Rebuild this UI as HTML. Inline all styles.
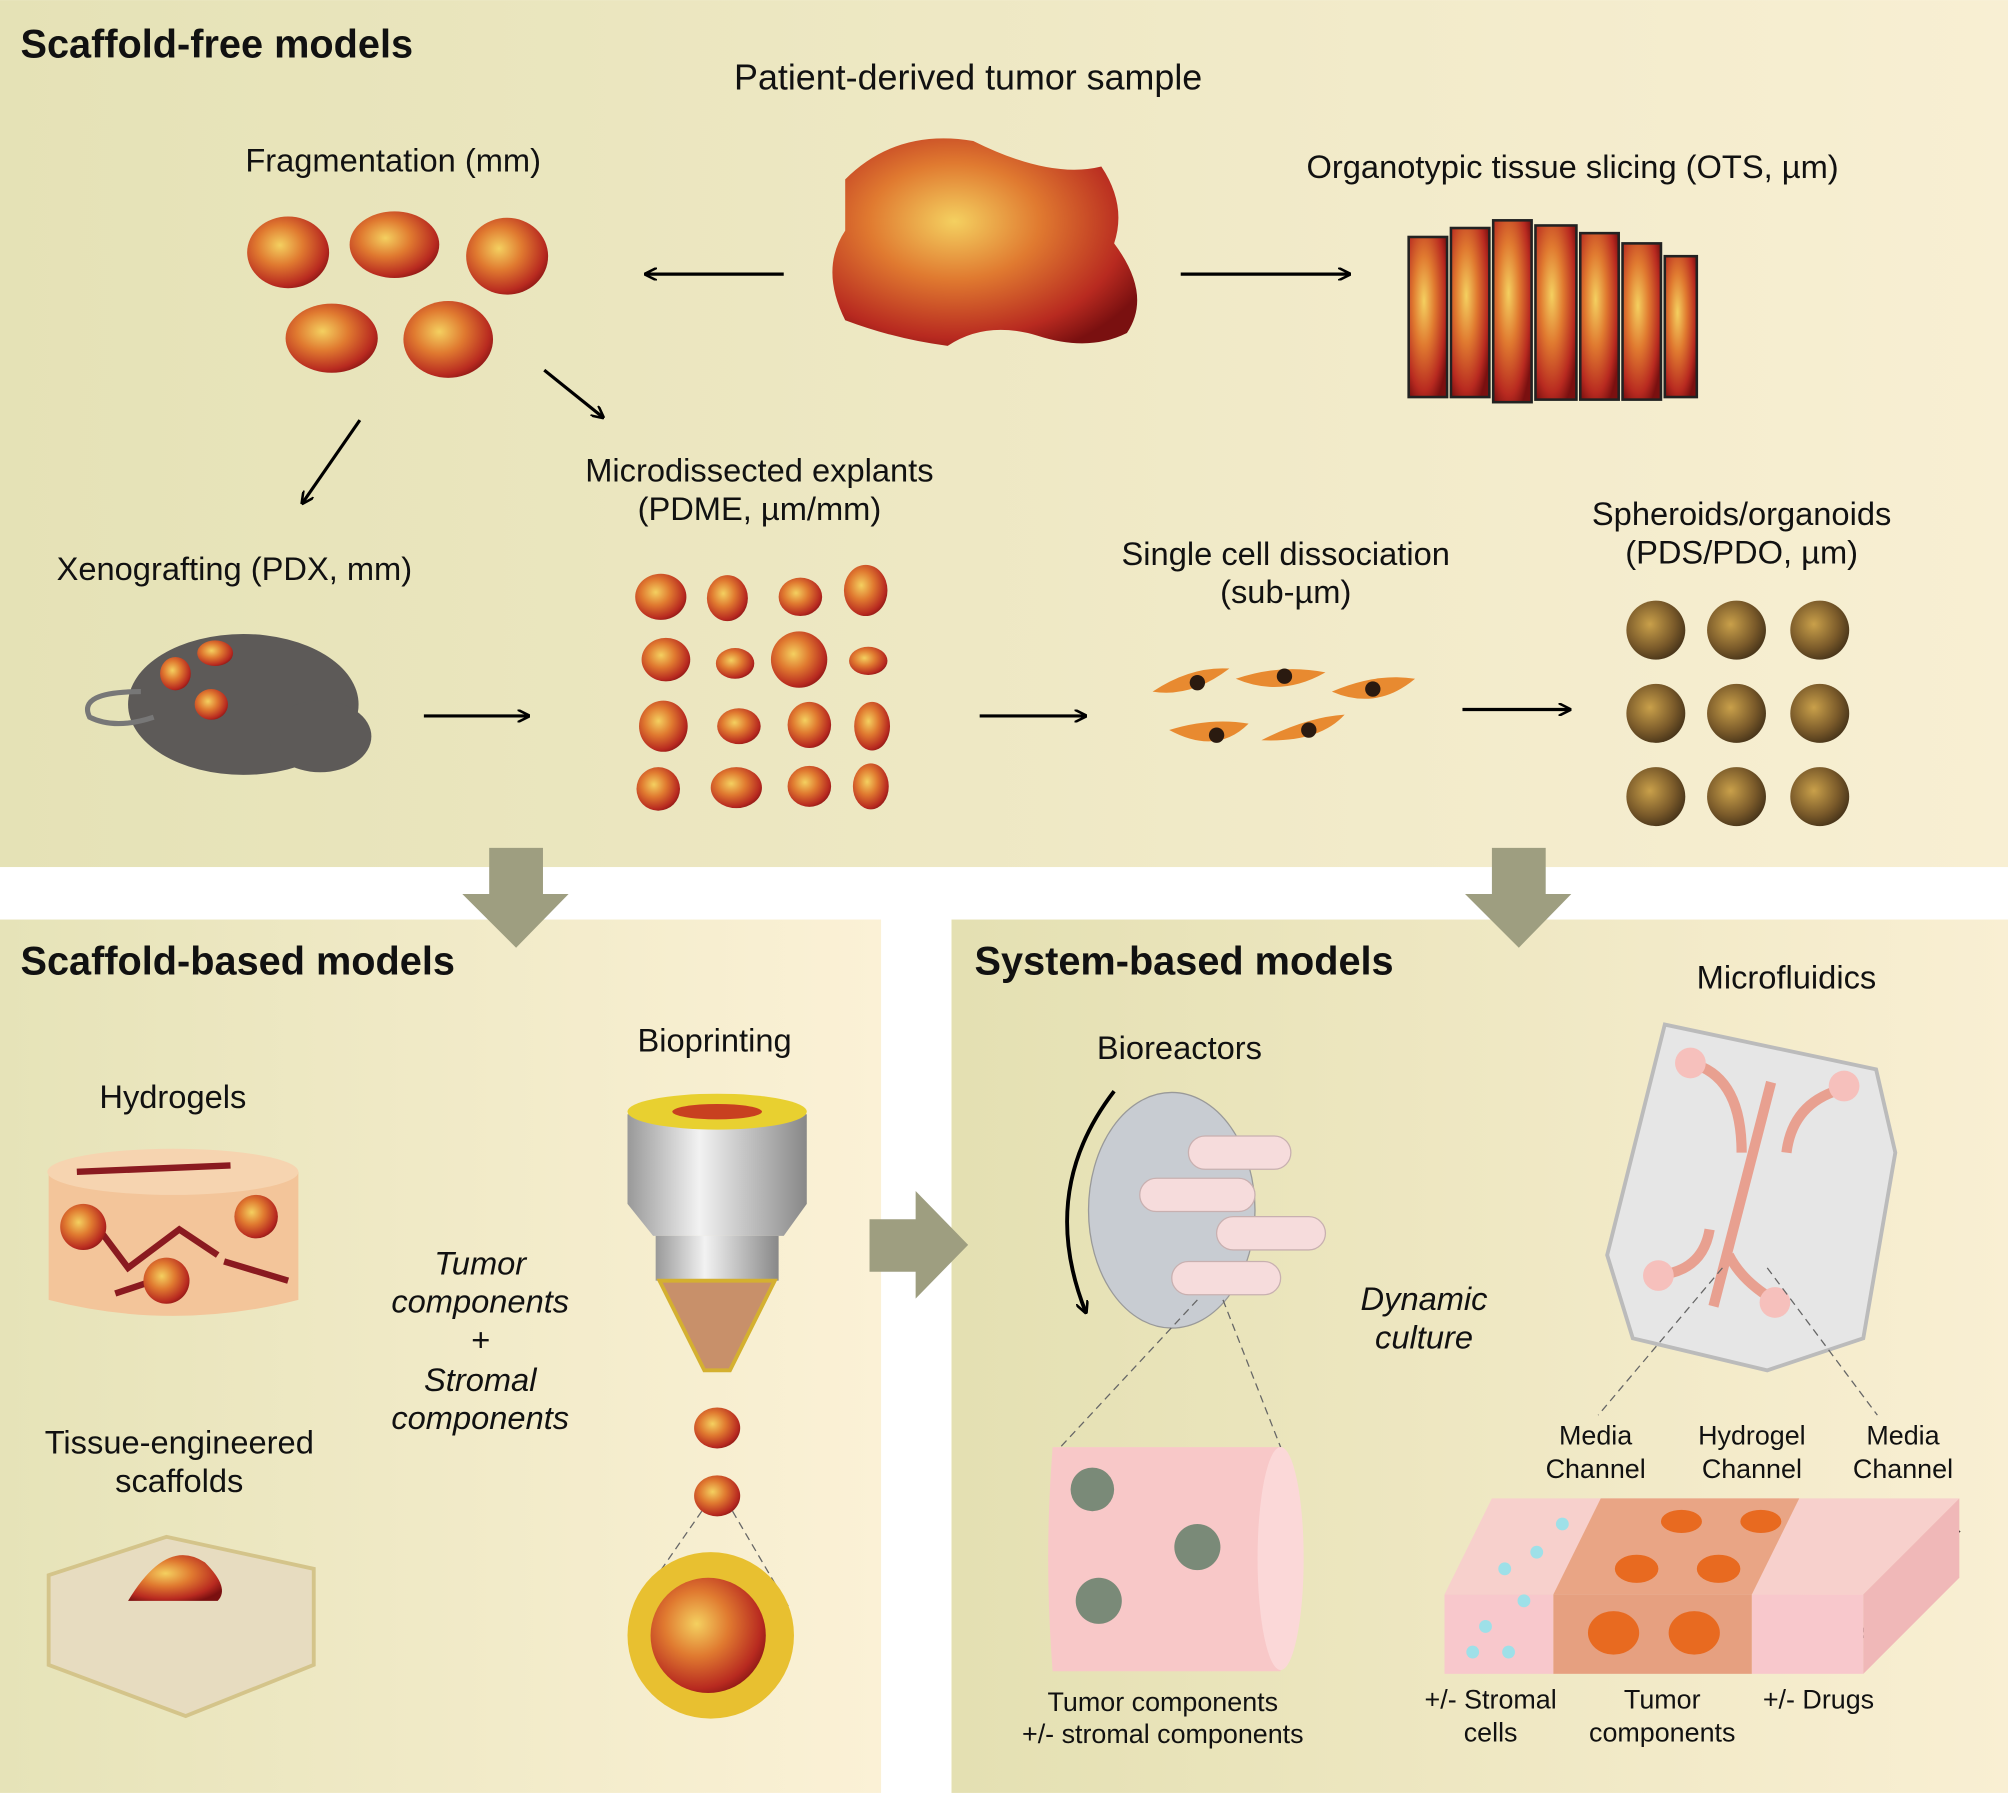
<!DOCTYPE html>
<html><head><meta charset="utf-8"><style>
html,body{margin:0;padding:0;background:#fff;}
svg{display:block;}
text{font-family:"Liberation Sans",sans-serif;fill:#111;}
</style></head><body>
<svg width="2008" height="1793" viewBox="0 0 1568 1400" xmlns="http://www.w3.org/2000/svg">
<defs>
<linearGradient id="top" x1="0" y1="0" x2="1" y2="0"><stop offset="0" stop-color="#e5e2b6"/><stop offset="1" stop-color="#f8efd3"/></linearGradient>
<linearGradient id="bl" x1="0" y1="0" x2="1" y2="0"><stop offset="0" stop-color="#e6e3b8"/><stop offset="1" stop-color="#fbf1d6"/></linearGradient>
<linearGradient id="br" x1="0" y1="0" x2="1" y2="0"><stop offset="0" stop-color="#e4e0b2"/><stop offset="1" stop-color="#f9efd3"/></linearGradient>
<radialGradient id="tum" cx="0.4" cy="0.4" r="0.7"><stop offset="0" stop-color="#f4d060"/><stop offset="0.4" stop-color="#e07a30"/><stop offset="0.8" stop-color="#b82a20"/><stop offset="1" stop-color="#7a1010"/></radialGradient>
<radialGradient id="sph" cx="0.4" cy="0.4" r="0.7"><stop offset="0" stop-color="#c9a04a"/><stop offset="0.6" stop-color="#7a5a2a"/><stop offset="1" stop-color="#3a2a15"/></radialGradient>
<linearGradient id="noz" x1="0" y1="0" x2="1" y2="0"><stop offset="0" stop-color="#999"/><stop offset="0.4" stop-color="#f2f2f2"/><stop offset="1" stop-color="#888"/></linearGradient>
<marker id="ah" markerWidth="10" markerHeight="10" refX="9" refY="5" orient="auto" markerUnits="userSpaceOnUse"><path d="M0,0 L10,5 L0,10" fill="none" stroke="#000" stroke-width="2"/></marker>
</defs>
<rect width="1568" height="1400" fill="#fff"/>
<rect x="0" y="0" width="1568" height="677" fill="url(#top)"/>
<rect x="0" y="718" width="688" height="682" fill="url(#bl)"/>
<rect x="743" y="718" width="825" height="682" fill="url(#br)"/>
<g fill="#9e9e80">
<polygon points="382,662 424,662 424,698 444,698 403,740 361,698 382,698"/>
<polygon points="1165,662 1207,662 1207,698 1227,698 1186,740 1144,698 1165,698"/>
<polygon points="679,952 715,952 715,930 756,972 715,1014 715,993 679,993"/>
</g>
<text x="16" y="45" font-size="31" font-weight="bold">Scaffold-free models</text>
<text x="16" y="761" font-size="31" font-weight="bold">Scaffold-based models</text>
<text x="761" y="761" font-size="31" font-weight="bold">System-based models</text>
<g font-size="25.5">
<text x="756" y="70" text-anchor="middle" font-size="28">Patient-derived tumor sample</text>
<text x="307" y="134" text-anchor="middle">Fragmentation (mm)</text>
<text x="1228" y="139" text-anchor="middle">Organotypic tissue slicing (OTS, µm)</text>
<text x="593" y="376" text-anchor="middle">Microdissected explants</text>
<text x="593" y="406" text-anchor="middle">(PDME, µm/mm)</text>
<text x="183" y="453" text-anchor="middle">Xenografting (PDX, mm)</text>
<text x="1004" y="441" text-anchor="middle">Single cell dissociation</text>
<text x="1004" y="471" text-anchor="middle">(sub-µm)</text>
<text x="1360" y="410" text-anchor="middle">Spheroids/organoids</text>
<text x="1360" y="440" text-anchor="middle">(PDS/PDO, µm)</text>
<text x="135" y="865" text-anchor="middle">Hydrogels</text>
<text x="140" y="1135" text-anchor="middle">Tissue-engineered</text>
<text x="140" y="1165" text-anchor="middle">scaffolds</text>
<text x="558" y="821" text-anchor="middle">Bioprinting</text>
<g font-style="italic" text-anchor="middle">
<text x="375" y="995">Tumor</text><text x="375" y="1025">components</text><text x="375" y="1055">+</text><text x="375" y="1086">Stromal</text><text x="375" y="1116">components</text>
<text x="1112" y="1023">Dynamic</text><text x="1112" y="1053">culture</text>
</g>
<text x="921" y="827" text-anchor="middle">Bioreactors</text>
<text x="1395" y="772" text-anchor="middle">Microfluidics</text>
</g>
<g font-size="21" text-anchor="middle">
<text x="908" y="1336">Tumor components</text><text x="908" y="1361">+/- stromal components</text>
<text x="1246" y="1128">Media</text><text x="1246" y="1154">Channel</text>
<text x="1368" y="1128">Hydrogel</text><text x="1368" y="1154">Channel</text>
<text x="1486" y="1128">Media</text><text x="1486" y="1154">Channel</text>
<text x="1164" y="1334">+/- Stromal</text><text x="1164" y="1360">cells</text>
<text x="1298" y="1334">Tumor</text><text x="1298" y="1360">components</text>
<text x="1420" y="1334">+/- Drugs</text>
</g>
<g stroke="#000" stroke-width="2.5" fill="none" marker-end="url(#ah)">
<line x1="612" y1="214" x2="504" y2="214"/>
<line x1="922" y1="214" x2="1054" y2="214"/>
<line x1="425" y1="289" x2="471" y2="326"/>
<line x1="281" y1="328" x2="236" y2="393"/>
<line x1="331" y1="559" x2="413" y2="559"/>
<line x1="765" y1="559" x2="848" y2="559"/>
<line x1="1142" y1="554" x2="1226" y2="554"/>
<line x1="1530" y1="1195" x2="1448" y2="1280"/>
</g>
<path d="M660,140 Q700,100 760,110 Q820,140 860,130 Q880,160 870,190 Q900,230 880,260 Q850,275 810,262 Q770,250 740,270 Q700,265 660,250 Q640,210 660,180 Z" fill="url(#tum)"/>
<g fill="url(#tum)" stroke="#222" stroke-width="2">
<rect x="1100" y="185" width="30" height="125"/><rect x="1133" y="178" width="30" height="132"/><rect x="1166" y="172" width="30" height="142"/><rect x="1199" y="176" width="32" height="136"/><rect x="1234" y="182" width="30" height="130"/><rect x="1267" y="190" width="30" height="122"/><rect x="1300" y="200" width="25" height="110"/>
</g>
<g fill="url(#tum)">
<ellipse cx="225" cy="197" rx="32" ry="28"/><ellipse cx="308" cy="191" rx="35" ry="26"/><ellipse cx="396" cy="200" rx="32" ry="30"/>
<ellipse cx="259" cy="264" rx="36" ry="27"/><ellipse cx="350" cy="265" rx="35" ry="30"/>
<ellipse cx="516" cy="466" rx="20" ry="18"/><ellipse cx="568" cy="467" rx="16" ry="18"/><ellipse cx="625" cy="466" rx="17" ry="15"/><ellipse cx="676" cy="461" rx="17" ry="20"/>
<ellipse cx="520" cy="515" rx="19" ry="17"/><ellipse cx="574" cy="518" rx="15" ry="12"/><ellipse cx="624" cy="515" rx="22" ry="22"/><ellipse cx="678" cy="516" rx="15" ry="11"/>
<ellipse cx="518" cy="567" rx="19" ry="20"/><ellipse cx="577" cy="567" rx="17" ry="14"/><ellipse cx="632" cy="566" rx="17" ry="18"/><ellipse cx="681" cy="567" rx="14" ry="19"/>
<ellipse cx="514" cy="616" rx="17" ry="17"/><ellipse cx="575" cy="615" rx="20" ry="16"/><ellipse cx="632" cy="614" rx="17" ry="16"/><ellipse cx="680" cy="614" rx="14" ry="18"/>
<ellipse cx="560" cy="1115" rx="18" ry="16"/><ellipse cx="560" cy="1168" rx="18" ry="16"/>
</g>
<ellipse cx="190" cy="550" rx="90" ry="55" fill="#5d5a58"/><ellipse cx="250" cy="575" rx="40" ry="28" fill="#5d5a58"/>
<path d="M110,540 Q60,540 70,560 Q90,570 120,560" fill="none" stroke="#777" stroke-width="4"/>
<ellipse cx="168" cy="510" rx="14" ry="10" fill="url(#tum)"/><ellipse cx="137" cy="526" rx="12" ry="13" fill="url(#tum)"/><ellipse cx="165" cy="550" rx="13" ry="12" fill="url(#tum)"/>
<g fill="#e88a30"><path d="M900,540 Q930,520 960,522 Q930,545 900,540Z"/><path d="M965,530 Q1000,518 1035,525 Q1000,545 965,530Z"/><path d="M1040,540 Q1075,525 1105,530 Q1075,555 1040,540Z"/><path d="M913,570 Q945,560 975,565 Q950,590 913,570Z"/><path d="M985,578 Q1020,560 1050,558 Q1030,580 985,578Z"/></g>
<g fill="#2a1a10"><circle cx="935" cy="533" r="6"/><circle cx="1003" cy="528" r="6"/><circle cx="1072" cy="538" r="6"/><circle cx="950" cy="574" r="6"/><circle cx="1022" cy="570" r="6"/></g>
<g fill="url(#sph)">
<circle cx="1293" cy="492" r="23"/><circle cx="1356" cy="492" r="23"/><circle cx="1421" cy="492" r="23"/>
<circle cx="1293" cy="557" r="23"/><circle cx="1356" cy="557" r="23"/><circle cx="1421" cy="557" r="23"/>
<circle cx="1293" cy="622" r="23"/><circle cx="1356" cy="622" r="23"/><circle cx="1421" cy="622" r="23"/>
</g>
<path d="M38,915 L38,1015 Q135,1040 233,1015 L233,915 Z" fill="#f3c59a"/>
<ellipse cx="135" cy="915" rx="98" ry="18" fill="#f6d4b0"/>
<g stroke="#8a1a20" stroke-width="5" fill="none"><path d="M60,915 L180,910"/><path d="M70,950 L100,990 L140,960 L170,980"/><path d="M90,1010 L120,1000"/><path d="M175,985 L225,1000"/></g>
<circle cx="65" cy="958" r="18" fill="url(#tum)"/><circle cx="200" cy="950" r="17" fill="url(#tum)"/><circle cx="130" cy="1000" r="18" fill="url(#tum)"/>
<path d="M38,1230 L130,1200 L245,1225 L245,1300 L145,1340 L38,1300 Z" fill="#e7dcc0" stroke="#d4c48a" stroke-width="3"/>
<path d="M100,1250 Q130,1200 160,1220 Q180,1240 170,1250 Z" fill="url(#tum)"/>
<path d="M490,870 L630,870 L630,940 L612,965 L510,965 L490,940 Z" fill="url(#noz)"/>
<ellipse cx="560" cy="868" rx="70" ry="14" fill="#e8d030"/><ellipse cx="560" cy="868" rx="35" ry="6" fill="#c84020"/>
<rect x="512" y="965" width="96" height="35" fill="url(#noz)"/>
<path d="M515,1000 L605,1000 L570,1070 L550,1070 Z" fill="#c8906a" stroke="#d4b030" stroke-width="3"/>
<g stroke="#666" stroke-dasharray="6,4" fill="none"><line x1="548" y1="1180" x2="496" y2="1255"/><line x1="572" y1="1180" x2="616" y2="1255"/></g>
<circle cx="555" cy="1277" r="65" fill="#e8c030"/><circle cx="553" cy="1277" r="45" fill="url(#tum)"/>
<path d="M870,852 Q810,930 848,1025" fill="none" stroke="#000" stroke-width="3" marker-end="url(#ah)"/>
<ellipse cx="915" cy="945" rx="65" ry="92" fill="#c8ccd2" stroke="#999"/>
<g fill="#f6dcdc" stroke="#c8b0b0"><rect x="928" y="887" width="80" height="26" rx="13"/><rect x="890" y="920" width="90" height="26" rx="13"/><rect x="950" y="950" width="85" height="26" rx="13"/><rect x="915" y="985" width="85" height="26" rx="13"/></g>
<g stroke="#666" stroke-dasharray="6,4" fill="none"><line x1="935" y1="1015" x2="828" y2="1130"/><line x1="955" y1="1015" x2="1000" y2="1130"/></g>
<path d="M822,1130 L1000,1130 L1000,1305 L822,1305 Q815,1217 822,1130Z" fill="#f8c8c8"/>
<ellipse cx="1000" cy="1217" rx="18" ry="87" fill="#fbd8d8"/>
<g fill="#7a8a78"><circle cx="853" cy="1163" r="17"/><circle cx="935" cy="1208" r="18"/><circle cx="858" cy="1250" r="18"/></g>
<path d="M1300,800 L1465,835 L1480,900 L1455,1045 L1380,1070 L1275,1045 L1255,980 Z" fill="#e6e6e6" stroke="#bbb" stroke-width="3"/>
<g stroke="#e8a090" stroke-width="8" fill="none"><line x1="1383" y1="845" x2="1338" y2="1020"/><path d="M1320,830 Q1360,840 1360,900"/><path d="M1440,850 Q1400,860 1395,900"/><path d="M1300,995 Q1330,990 1335,960"/><path d="M1385,1015 Q1360,1000 1350,980"/></g>
<g fill="#f6c0bc"><circle cx="1320" cy="830" r="12"/><circle cx="1440" cy="848" r="12"/><circle cx="1295" cy="996" r="12"/><circle cx="1386" cy="1017" r="12"/></g>
<g stroke="#666" stroke-dasharray="6,4" fill="none"><line x1="1345" y1="990" x2="1248" y2="1105"/><line x1="1380" y1="990" x2="1466" y2="1105"/></g>
<polygon points="1128,1245 1165,1170 1530,1170 1455,1245" fill="#f7d0cc"/>
<rect x="1128" y="1245" width="85" height="62" fill="#f8c8cc"/>
<rect x="1213" y="1245" width="155" height="62" fill="#e6a080"/>
<rect x="1368" y="1245" width="87" height="62" fill="#f8c8cc"/>
<polygon points="1213,1245 1250,1170 1405,1170 1368,1245" fill="#e9a585"/>
<polygon points="1455,1245 1530,1170 1530,1232 1455,1307" fill="#f0b8b8"/>
<g fill="#e86a20"><ellipse cx="1260" cy="1275" rx="20" ry="17"/><ellipse cx="1323" cy="1275" rx="20" ry="17"/><ellipse cx="1278" cy="1225" rx="17" ry="11"/><ellipse cx="1342" cy="1225" rx="17" ry="11"/><ellipse cx="1313" cy="1188" rx="16" ry="9"/><ellipse cx="1375" cy="1188" rx="16" ry="9"/></g>
<g fill="#9ee0e8"><circle cx="1150" cy="1290" r="5"/><circle cx="1178" cy="1290" r="5"/><circle cx="1160" cy="1270" r="5"/><circle cx="1190" cy="1250" r="5"/><circle cx="1200" cy="1212" r="5"/><circle cx="1175" cy="1225" r="5"/><circle cx="1220" cy="1190" r="5"/></g>
</svg>
</body></html>
